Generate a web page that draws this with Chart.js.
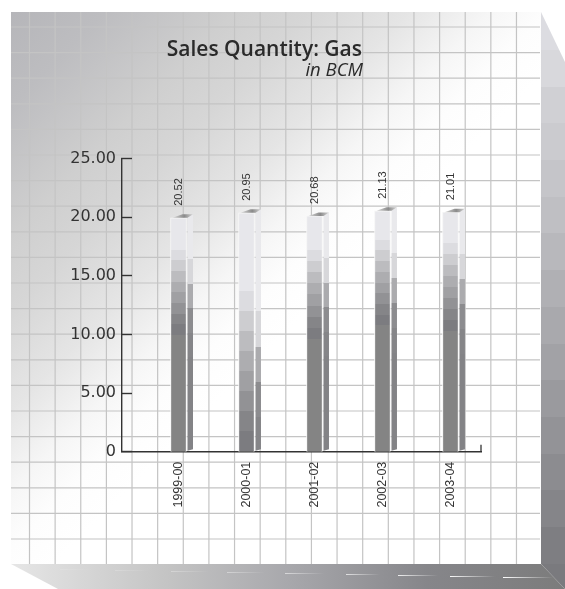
<!DOCTYPE html>
<html>
<head>
<meta charset="utf-8">
<style>html,body{margin:0;padding:0;background:#fff}#w{position:relative;width:565px;height:589px}</style>
<script src="https://cdn.jsdelivr.net/npm/chart.js@4"></script>
</head>
<body>
<div id="w"><canvas id="c" width="565" height="589"></canvas></div>
<script>
const titleText = 'Sales Quantity: Gas';
const subtitleText = 'in BCM';
const categories = ['1999-00', '2000-01', '2001-02', '2002-03', '2003-04'];
const salesValues = [20.52, 20.95, 20.68, 21.13, 21.01];
const yTicks = [0, 5, 10, 15, 20, 25];

// Stepped shading of each bar, as a share of the bar's height
const frontBandStart = [0.137, 0.327, 0.145, 0.120, 0.130];
const frontBandStep = [0.0455, 0.0837, 0.047, 0.0445, 0.0456];
const sideBandStart = [0.19, 0.42, 0.19, 0.185, 0.185];
const sideBandStep = [0.103, 0.146, 0.103, 0.103, 0.103];
const frontColors = ['#e7e7eb', '#dcdce0', '#cdcdd0', '#bcbcbf', '#adadb0', '#a0a0a3', '#929295', '#858588', '#7c7c80', '#848484'];
const sideColors = ['#e9e9ec', '#d7d7da', '#ababae', '#8c8c8f', '#858588', '#838386'];
const sideBandColors = ['#dcdce1', '#d8d8dc', '#d0d0d4', '#cbcbcf', '#c5c5c9', '#bfbfc3', '#b8b8bc', '#b0b0b4', '#a9a9ad', '#a2a2a6', '#9a9a9e', '#939397', '#8c8c90', '#858589', '#7e7e82', '#7a7a7e'];

function steppedGradient(ctx, top, base, start, step, colors) {
  const g = ctx.createLinearGradient(0, top, 0, base);
  let pos = 0;
  colors.forEach((c, i) => {
    const next = i === colors.length - 1 ? 1 : Math.min(1, start + step * i);
    g.addColorStop(Math.min(1, pos), c);
    g.addColorStop(next, c);
    pos = next;
  });
  return g;
}

const panelPlugin = {
  id: 'panel',
  beforeDraw(chart) {
    const ctx = chart.ctx;
    const L = 11, T = 12, R = 541, B = 564;
    ctx.save();
    ctx.fillStyle = '#fff';
    ctx.fillRect(0, 0, 565, 589);

    // right face
    const rf = ctx.createLinearGradient(0, 13, 0, 589);
    let rp = 0;
    sideBandColors.forEach((c, i) => {
      const b = i === sideBandColors.length - 1 ? 1 : Math.min(1, (37 + i * 36.7) / 576);
      rf.addColorStop(rp, c);
      rf.addColorStop(b, c);
      rp = b;
    });
    ctx.fillStyle = rf;
    ctx.beginPath();
    ctx.moveTo(R, T); ctx.lineTo(565, 62); ctx.lineTo(565, 589); ctx.lineTo(R, B);
    ctx.closePath(); ctx.fill();

    // bottom face
    const bf = ctx.createLinearGradient(L, 0, 565, 0);
    bf.addColorStop(0, '#e6e6e6');
    bf.addColorStop(0.28, '#c4c4c4');
    bf.addColorStop(0.5, '#a8a8ac');
    bf.addColorStop(0.75, '#86868a');
    bf.addColorStop(1, '#7c7c7c');
    ctx.fillStyle = bf;
    ctx.beginPath();
    ctx.moveTo(L, B); ctx.lineTo(R, B); ctx.lineTo(565, 589); ctx.lineTo(58, 589);
    ctx.closePath(); ctx.fill();

    // streaks on the bottom face
    const streaks = [[60, 94, 569, .12], [115, 150, 570, .2], [171, 209, 571, .3], [227, 265, 572, .4], [285, 324, 573, .55], [346, 380, 574, .7], [398, 438, 575, .85], [450, 495, 576, .95], [503, 553, 577, 1]];
    streaks.forEach(([a, b, y, o]) => {
      const g = ctx.createLinearGradient(a, 0, b, 0);
      g.addColorStop(0, 'rgba(255,255,255,' + o + ')');
      g.addColorStop(1, 'rgba(255,255,255,0)');
      ctx.fillStyle = g;
      ctx.fillRect(a, y, b - a, 1);
    });

    // front panel
    const pg = ctx.createLinearGradient(0, 0, 310, 310);
    pg.addColorStop(0, '#b4b4b8');
    pg.addColorStop(0.19, '#bdbdc0');
    pg.addColorStop(0.4, '#cfcfcf');
    pg.addColorStop(0.52, '#d6d6d6');
    pg.addColorStop(0.68, '#e5e5e5');
    pg.addColorStop(0.81, '#f6f6f6');
    pg.addColorStop(0.9, '#fdfdfd');
    pg.addColorStop(1, '#ffffff');
    ctx.fillStyle = pg;
    ctx.fillRect(L, T, R - L, B - T);

    // panel ruling
    ctx.strokeStyle = '#c4c4c4';
    ctx.lineWidth = 1.2;
    ctx.beginPath();
    for (let i = 0; i < 20; i++) {
      const x = 29.5 + i * 25.63;
      ctx.moveTo(x, T); ctx.lineTo(x, B);
    }
    for (let i = 0; i < 21; i++) {
      const y = 27 + i * 25.6;
      ctx.moveTo(L, y); ctx.lineTo(R - 1, y);
    }
    ctx.stroke();
    ctx.fillStyle = '#fff';
    ctx.fillRect(R - 1, 300, 1, B - 300);
    ctx.restore();
  },
  afterDatasetsDraw(chart) {
    const ctx = chart.ctx;
    const meta = chart.getDatasetMeta(0);
    const x = chart.scales.x;
    ctx.save();
    meta.data.forEach((bar, i) => {
      const right = bar.x + bar.width / 2;
      const left = bar.x - bar.width / 2;
      const top = bar.y, base = bar.base;
      // side face
      ctx.fillStyle = steppedGradient(ctx, top - 3.5, base, sideBandStart[i], sideBandStep[i], sideColors);
      ctx.beginPath();
      ctx.moveTo(right + 1, top - 0.5);
      ctx.lineTo(right + 6.5, top - 3.5);
      ctx.lineTo(right + 6.5, base - 2.5);
      ctx.lineTo(right + 1, base - 1);
      ctx.closePath();
      ctx.fill();
      // top face
      const tg = ctx.createLinearGradient(left, 0, right + 7, 0);
      tg.addColorStop(0, '#e8e8e8');
      tg.addColorStop(0.6, '#8a8a8a');
      tg.addColorStop(1, '#d8d8d8');
      ctx.fillStyle = tg;
      ctx.beginPath();
      ctx.moveTo(left + 2, top);
      ctx.lineTo(left + 12, top - 3.5);
      ctx.lineTo(right + 6.5, top - 3.5);
      ctx.lineTo(right + 1, top);
      ctx.closePath();
      ctx.fill();
      // value label
      ctx.save();
      ctx.translate(bar.x + 0.5, top - 12);
      ctx.rotate(-Math.PI / 2);
      ctx.font = '11px "Liberation Sans"';
      ctx.fillStyle = '#333';
      ctx.textAlign = 'left';
      ctx.textBaseline = 'middle';
      ctx.fillText(salesValues[i].toFixed(2), 0, 0);
      ctx.restore();
    });
    // end tick of the category axis
    ctx.strokeStyle = '#333';
    ctx.lineWidth = 1.3;
    ctx.beginPath();
    ctx.moveTo(x.right, x.top);
    ctx.lineTo(x.right, x.top - 7);
    ctx.stroke();
    // heading
    ctx.fillStyle = '#2a2a2a';
    ctx.textAlign = 'right';
    ctx.textBaseline = 'alphabetic';
    ctx.font = '600 21px "Open Sans"';
    ctx.fillText(titleText, 362, 56);
    ctx.font = 'italic 18.5px "Open Sans"';
    ctx.fillText(subtitleText, 363, 76);
    ctx.restore();
  }
};

new Chart(document.getElementById('c'), {
  type: 'bar',
  data: {
    labels: categories,
    datasets: [{
      label: titleText,
      data: salesValues.map((v, i) => ({ x: i, y: v })),
      yAxisID: 'depth',
      barThickness: 16,
      borderWidth: 1,
      borderColor: '#f6f6f6',
      backgroundColor(c) {
        const s = c.chart.scales.depth;
        const i = c.dataIndex;
        if (!s || i === undefined) return '#999';
        const top = s.getPixelForValue(salesValues[i]);
        const base = s.getPixelForValue(0);
        if (!Number.isFinite(top) || !Number.isFinite(base)) return '#999';
        return steppedGradient(c.chart.ctx, top, base, frontBandStart[i], frontBandStep[i], frontColors);
      }
    }]
  },
  plugins: [panelPlugin],
  options: {
    responsive: false,
    animation: false,
    events: [],
    layout: { padding: { left: 0, top: 158.7, right: 84, bottom: 0 } },
    plugins: { legend: { display: false }, title: { display: false }, tooltip: { enabled: false } },
    scales: {
      x: {
        type: 'linear',
        position: 'bottom',
        offset: false,
        min: -0.831,
        max: 4.449,
        afterBuildTicks(s) { s.ticks = categories.map((_, i) => ({ value: i })); },
        afterFit(s) { s.height = 137.3; },
        grid: { display: false },
        border: { color: '#333', width: 1.4 },
        ticks: {
          autoSkip: false, minRotation: 90, maxRotation: 90, padding: 2,
          color: '#333', font: { family: 'Liberation Sans', size: 12.5 },
          callback: v => categories[v]
        }
      },
      y: {
        position: 'left',
        min: 0,
        max: 25,
        afterBuildTicks(s) { s.ticks = yTicks.map(v => ({ value: v })); },
        afterFit(s) { s.width = 122; },
        grid: { drawOnChartArea: false, tickLength: -10, tickColor: '#333', tickWidth: 1.4 },
        border: { color: '#333', width: 1.4 },
        ticks: {
          padding: 16,
          color: '#333', font: { family: 'DejaVu Sans', size: 16 },
          callback: v => v === 0 ? '0' : v.toFixed(2)
        }
      },
      depth: { display: false, position: 'right', min: 0, max: 25.7 }
    }
  }
});
</script>
</body>
</html>
